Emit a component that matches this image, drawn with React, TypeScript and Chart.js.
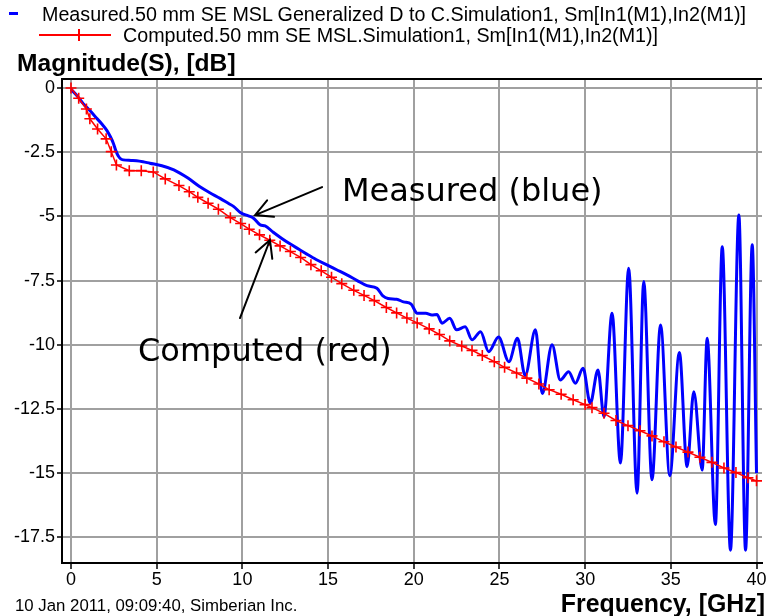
import React, { useEffect, useRef } from "react";
import { Chart, registerables } from "chart.js";

Chart.register(...registerables);

// ---------- data ----------
const measuredFreq = [
  0.0, 0.35, 0.7, 1.1, 1.5, 1.8, 2.08, 2.3, 2.47, 2.62, 2.76, 2.9, 3.05, 3.5, 3.83, 4.2, 4.6, 5.3, 6.0, 6.8,
  7.5, 8.1, 8.7, 9.2, 9.5, 9.9, 10.35, 10.65, 11.04, 11.33, 11.8, 12.3, 12.8, 13.3, 13.76, 14.3, 14.93, 15.5, 16.1, 16.7,
  17.27, 17.85, 18.2, 18.5, 19.0, 19.4, 19.85, 20.2, 20.7, 21.06, 21.35, 21.65, 22.1, 22.5, 23.0, 23.4, 23.9, 24.37, 24.95, 25.55,
  26.05, 26.5, 27.1, 27.5, 28.07, 28.55, 29.04, 29.43, 29.88, 30.3, 30.75, 31.1, 31.57, 32.06, 32.54, 33.03, 33.42, 33.9, 34.4, 34.94,
  35.5, 35.95, 36.34, 36.83, 37.12, 37.6, 38.0, 38.48, 38.97, 39.36, 39.75, 40.0,
];
const measuredDb = [
  -0.05, -0.3, -0.6, -0.88, -1.18, -1.4, -1.64, -1.9, -2.15, -2.45, -2.65, -2.76, -2.8, -2.82, -2.83, -2.87, -2.93, -3.03, -3.19, -3.5,
  -3.84, -4.08, -4.3, -4.5, -4.62, -4.86, -4.98, -5.07, -5.33, -5.37, -5.62, -5.86, -6.08, -6.28, -6.47, -6.68, -6.89, -7.08, -7.28, -7.5,
  -7.7, -7.8, -8.1, -8.2, -8.23, -8.33, -8.42, -8.77, -8.77, -8.84, -8.82, -9.16, -8.97, -9.42, -9.3, -9.81, -9.49, -10.27, -9.7, -10.66,
  -9.75, -11.2, -9.42, -11.9, -10.0, -11.37, -11.05, -11.5, -10.92, -12.28, -10.98, -12.8, -8.77, -14.61, -7.02, -15.78, -7.54, -15.26, -9.23, -15.1,
  -10.3, -14.75, -11.83, -14.88, -9.75, -17.0, -6.18, -18.0, -4.95, -18.0, -6.11, -15.0,
];

const computedFreq = [
  0, 0.45, 0.9, 1.1, 1.55, 2.05, 2.35, 2.65, 3.4, 4.1, 4.8, 5.5, 6.3, 6.9, 7.4, 8.0, 8.6, 9.3, 9.9, 10.4,
  11.0, 11.6, 12.2, 12.8, 13.4, 14.0, 14.6, 15.2, 15.8, 16.5, 17.1, 17.7, 18.4, 19.0, 19.6, 20.2, 20.9, 21.5, 22.1, 22.8,
  23.4, 24.0, 24.7, 25.3, 26.0, 26.6, 27.3, 27.9, 28.6, 29.3, 30.0, 30.4, 31.1, 31.8, 32.5, 33.2, 33.9, 34.6, 35.3, 36.0,
  36.7, 37.4, 38.1, 38.8, 39.5, 40.0,
];
const computedDb = [
  0, -0.4, -0.82, -1.2, -1.6, -1.98, -2.48, -3.0, -3.22, -3.22, -3.27, -3.54, -3.8, -4.04, -4.26, -4.49, -4.72, -5.05, -5.28, -5.5,
  -5.72, -5.93, -6.15, -6.37, -6.6, -6.88, -7.12, -7.37, -7.62, -7.88, -8.08, -8.28, -8.55, -8.76, -8.96, -9.15, -9.38, -9.6, -9.85, -10.05,
  -10.22, -10.42, -10.66, -10.88, -11.1, -11.3, -11.53, -11.75, -11.93, -12.14, -12.33, -12.45, -12.67, -12.95, -13.15, -13.35, -13.55, -13.78, -13.98, -14.18,
  -14.38, -14.58, -14.8, -14.98, -15.18, -15.3,
];

const xTickValues = [0, 5, 10, 15, 20, 25, 30, 35, 40];
const yTickValues = [0, -2.5, -5, -7.5, -10, -12.5, -15, -17.5];
const yTickLabels = ["0", "-2.5", "-5", "-7.5", "-10", "-12.5", "-15", "-17.5"];

const seriesLabels = [
  "Measured.50 mm SE MSL Generalized D to C.Simulation1, Sm[In1(M1),In2(M1)]",
  "Computed.50 mm SE MSL.Simulation1, Sm[In1(M1),In2(M1)]",
];
const yAxisTitle = "Magnitude(S), [dB]";
const xAxisTitle = "Frequency, [GHz]";
const footerText = "10 Jan 2011, 09:09:40, Simberian Inc.";
const calloutLabels = ["Measured (blue)", "Computed (red)"];

// callouts, in data coordinates (GHz, dB)
const calloutTextAt = [
  [15.81, -4.4],
  [3.91, -10.63],
];
const calloutTail = [
  [14.65, -3.86],
  [9.86, -8.96],
];
const calloutTip = [
  [10.74, -4.95],
  [11.61, -5.92],
];

const BLUE = "#0000ff";
const RED = "#ff0000";
const SANS = '"Liberation Sans", Arial, sans-serif';

const framePlugin = {
  id: "frameAndCallouts",
  afterDatasetsDraw(chart: any) {
    const { ctx, chartArea, scales } = chart;
    const xs = scales.x;
    const ys = scales.y;
    ctx.save();
    ctx.strokeStyle = "#000";
    ctx.lineWidth = 2;
    ctx.beginPath();
    ctx.moveTo(chartArea.left - 1, chartArea.top);
    ctx.lineTo(chartArea.right, chartArea.top);
    ctx.stroke();

    ctx.lineWidth = 2;
    ctx.lineCap = "round";
    for (let i = 0; i < calloutLabels.length; i++) {
      const tx = xs.getPixelForValue(calloutTail[i][0]);
      const ty = ys.getPixelForValue(calloutTail[i][1]);
      const px = xs.getPixelForValue(calloutTip[i][0]);
      const py = ys.getPixelForValue(calloutTip[i][1]);
      ctx.beginPath();
      ctx.moveTo(tx, ty);
      ctx.lineTo(px, py);
      const ang = Math.atan2(ty - py, tx - px);
      const len = 19;
      const spread = (28 * Math.PI) / 180;
      ctx.moveTo(px + len * Math.cos(ang - spread), py + len * Math.sin(ang - spread));
      ctx.lineTo(px, py);
      ctx.lineTo(px + len * Math.cos(ang + spread), py + len * Math.sin(ang + spread));
      ctx.stroke();

      ctx.fillStyle = "#000";
      ctx.font = '32px "DejaVu Sans", Verdana, sans-serif';
      ctx.textBaseline = "alphabetic";
      ctx.textAlign = "left";
      ctx.fillText(
        calloutLabels[i],
        xs.getPixelForValue(calloutTextAt[i][0]),
        ys.getPixelForValue(calloutTextAt[i][1])
      );
    }
    ctx.restore();
  },
};

export default function App() {
  const canvasRef = useRef<HTMLCanvasElement | null>(null);

  useEffect(() => {
    const canvas = canvasRef.current;
    if (!canvas) return;
    const chart = new Chart(canvas, {
      type: "line",
      data: {
        datasets: [
          {
            label: seriesLabels[1],
            data: computedFreq.map((f, i) => ({ x: f, y: computedDb[i] })),
            borderColor: RED,
            backgroundColor: RED,
            borderWidth: 1.5,
            pointStyle: "cross",
            pointRadius: 5.5,
            pointBorderWidth: 1.6,
            pointBorderColor: RED,
            tension: 0,
            order: 0,
          },
          {
            label: seriesLabels[0],
            data: measuredFreq.map((f, i) => ({ x: f, y: measuredDb[i] })),
            borderColor: BLUE,
            backgroundColor: BLUE,
            borderWidth: 3,
            pointRadius: 0,
            cubicInterpolationMode: "monotone",
            order: 1,
          },
        ],
      },
      options: {
        responsive: false,
        animation: false,
        events: [],
        layout: { padding: { top: 79, right: 8, left: 0, bottom: 0 } },
        plugins: {
          legend: { display: false },
          title: { display: false },
          tooltip: { enabled: false },
        },
        scales: {
          x: {
            type: "linear",
            min: -0.525,
            max: 40.32,
            afterBuildTicks: (s: any) => {
              s.ticks = xTickValues.map((v) => ({ value: v }));
            },
            afterFit: (s: any) => {
              s.height = 53;
            },
            grid: {
              color: "#a0a0a0",
              lineWidth: 2,
              drawTicks: true,
              tickLength: 6,
              tickColor: "#000",
              tickWidth: 1.5,
            },
            border: { display: true, color: "#000", width: 2 },
            ticks: {
              color: "#000",
              font: { family: SANS, size: 18 },
              padding: 0,
              maxRotation: 0,
              autoSkip: false,
              callback: (v: any) => String(v),
            },
          },
          y: {
            type: "linear",
            min: -18.5,
            max: 0.35,
            afterBuildTicks: (s: any) => {
              s.ticks = yTickValues.map((v) => ({ value: v }));
            },
            afterFit: (s: any) => {
              s.width = 62;
            },
            grid: {
              color: "#a0a0a0",
              lineWidth: 2,
              drawTicks: true,
              tickLength: 5,
              tickColor: "#000",
              tickWidth: 1.5,
            },
            border: { display: true, color: "#000", width: 2 },
            ticks: {
              color: "#000",
              font: { family: SANS, size: 18 },
              padding: 2,
              autoSkip: false,
              callback: (v: any) => {
                const k = yTickValues.indexOf(Number(v));
                return k >= 0 ? yTickLabels[k] : "";
              },
            },
          },
        },
      },
      plugins: [framePlugin],
    } as any);
    return () => chart.destroy();
  }, []);

  const abs = (o: any) => ({ position: "absolute" as const, whiteSpace: "nowrap" as const, lineHeight: 1, ...o });

  return (
    <div style={{ position: "absolute", left: 0, top: 0, width: 770, height: 616, background: "#fff", overflow: "hidden" }}>
      <canvas ref={canvasRef} width={770} height={616} style={{ position: "absolute", left: 0, top: 0 }} />
      {/* legend */}
      <div style={abs({ left: 9, top: 12, width: 9, height: 3, background: BLUE })} />
      <div style={abs({ left: 42, top: 4.5, fontFamily: SANS, fontSize: 19.7, color: "#000" })}>{seriesLabels[0]}</div>
      <div style={abs({ left: 39, top: 34, width: 72, height: 1.5, background: RED })} />
      <div style={abs({ left: 78, top: 29, width: 1.5, height: 12, background: RED })} />
      <div style={abs({ left: 123, top: 25.5, fontFamily: SANS, fontSize: 19.7, color: "#000" })}>{seriesLabels[1]}</div>
      {/* axis titles */}
      <div style={abs({ left: 17, top: 50.5, fontFamily: SANS, fontSize: 24.6, fontWeight: "bold", color: "#000" })}>{yAxisTitle}</div>
      <div style={abs({ right: 5, top: 590.5, fontFamily: SANS, fontSize: 24.9, fontWeight: "bold", color: "#000" })}>{xAxisTitle}</div>
      <div style={abs({ left: 15, top: 598, fontFamily: SANS, fontSize: 16.8, color: "#000" })}>{footerText}</div>
    </div>
  );
}
